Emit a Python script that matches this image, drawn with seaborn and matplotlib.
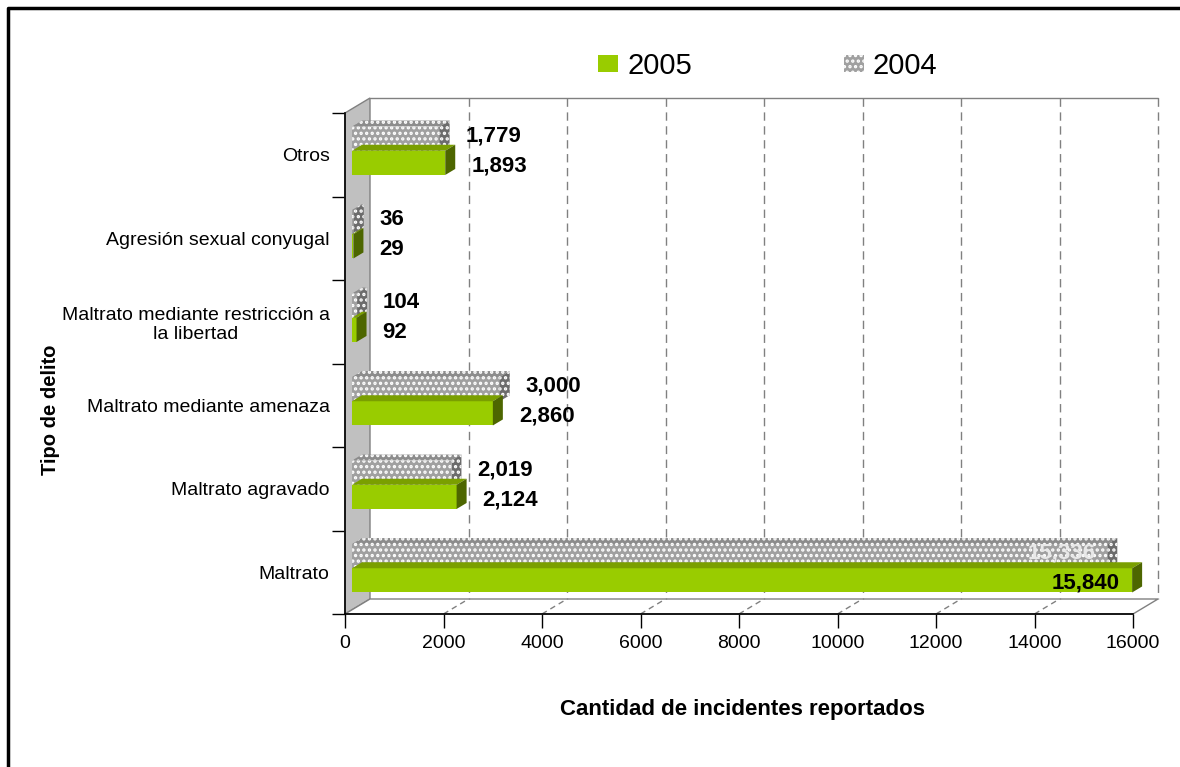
import numpy as np
import pandas as pd
import matplotlib.pyplot as plt
import seaborn as sns
from matplotlib.patches import Polygon, Patch
from matplotlib.lines import Line2D

# Datos
tipos = ['Otros',
         'Agresión sexual conyugal',
         'Maltrato mediante restricción a\nla libertad',
         'Maltrato mediante amenaza',
         'Maltrato agravado',
         'Maltrato']
casos_2004 = [1779, 36, 104, 3000, 2019, 15336]
casos_2005 = [1893, 29, 92, 2860, 2124, 15840]
anios = ['2004', '2005']
ticks_x = list(range(0, 16001, 2000))

df = pd.DataFrame({'tipo': tipos * 2,
                   'anio': ['2004'] * len(tipos) + ['2005'] * len(tipos),
                   'casos': casos_2004 + casos_2005})

VERDE, VERDE_OSC, VERDE_TOP = '#99cc00', '#4d6600', '#7a9f00'
GRIS, GRIS_OSC, GRIS_TOP = '#a0a0a0', '#6c6c6c', '#8c8c8c'
LINEA = '#808080'
TRAMA = '...'

sns.set_theme(style='white')
plt.rcParams['font.family'] = ['Liberation Sans', 'DejaVu Sans']
plt.rcParams['text.color'] = 'black'
plt.rcParams['axes.labelcolor'] = 'black'
plt.rcParams['xtick.color'] = 'black'
plt.rcParams['ytick.color'] = 'black'
plt.rcParams['hatch.color'] = 'white'
plt.rcParams['hatch.linewidth'] = 1.6

fig = plt.figure(figsize=(11.8, 7.67), dpi=100)
W, H = 1180, 767
ax = fig.add_axes([345 / W, 1 - 614 / H, 788 / W, 501 / H])

sns.barplot(data=df, x='casos', y='tipo', hue='anio', hue_order=anios,
            order=tipos, orient='h', width=0.58, saturation=1,
            palette={'2004': GRIS, '2005': VERDE}, legend=False, ax=ax,
            zorder=3)

ax.set_xlim(0, 16000)
ax.set_ylim(5.5, -0.5)

# pixeles -> unidades de datos
pos = ax.get_position()
sx = 16000 / (pos.width * W)
sy = 6 / (pos.height * H)
px_prof, py_prof = 25 * sx, 15 * sy   # profundidad del "3D"
y_top, y_bot = -0.5, 5.5

# pared izquierda
ax.add_patch(Polygon([(0, y_top), (px_prof, y_top - py_prof),
                      (px_prof, y_bot - py_prof), (0, y_bot)],
                     closed=True, facecolor='#c0c0c0', edgecolor=LINEA,
                     lw=1, zorder=1, clip_on=False))
# suelo
ax.add_patch(Polygon([(0, y_bot), (16000, y_bot),
                      (16000 + px_prof, y_bot - py_prof),
                      (px_prof, y_bot - py_prof)],
                     closed=True, facecolor='white', edgecolor=LINEA,
                     lw=1, zorder=1, clip_on=False))
# borde superior del fondo
ax.plot([px_prof, 16000 + px_prof], [y_top - py_prof] * 2, color=LINEA,
        lw=1, zorder=1, clip_on=False)

# rejilla del fondo y del suelo
for t in ticks_x[1:]:
    ax.plot([t + px_prof] * 2, [y_top - py_prof, y_bot - py_prof],
            color=LINEA, lw=1, ls=(0, (6, 4)), zorder=1, clip_on=False)
    if t < 16000:
        ax.plot([t, t + px_prof], [y_bot, y_bot - py_prof],
                color=LINEA, lw=1, ls=(0, (4, 3)), zorder=1, clip_on=False)

# barras con caras laterales
dx_bar, dy_bar = 10 * sx, 6 * sy
colores = {'2004': (GRIS, GRIS_OSC, GRIS_TOP, TRAMA),
           '2005': (VERDE, VERDE_OSC, VERDE_TOP, None)}
for anio, cont in zip(anios, ax.containers):
    frente, lado, arriba, trama = colores[anio]
    for bar in cont:
        bar.set_x(bar.get_x() + 7 * sx)
        bar.set_y(bar.get_y() - 4 * sy)
        bar.set_linewidth(0)
        bar.set_clip_on(False)
        if trama:
            bar.set_hatch(trama)
            bar.set_edgecolor('white')
        x0, y0 = bar.get_x(), bar.get_y()
        x1, y1 = x0 + bar.get_width(), y0 + bar.get_height()
        ax.add_patch(Polygon([(x0, y0), (x1, y0), (x1 + dx_bar, y0 - dy_bar),
                              (x0 + dx_bar, y0 - dy_bar)], closed=True,
                             facecolor=arriba, edgecolor='white' if trama else arriba,
                             lw=0, hatch=trama, zorder=3, clip_on=False))
        ax.add_patch(Polygon([(x1, y0), (x1, y1), (x1 + dx_bar, y1 - dy_bar),
                              (x1 + dx_bar, y0 - dy_bar)], closed=True,
                             facecolor=lado, edgecolor='white' if trama else lado,
                             lw=0, hatch=trama, zorder=3, clip_on=False))
        valor = int(round(bar.get_width()))
        yc = (y0 + y1) / 2 + (-3 * sy if anio == '2004' else 3 * sy)
        if valor > 10000:
            ax.text(x1 - 12 * sx, yc, f'{valor:,}', ha='right', va='center',
                    fontsize=16, fontweight='bold',
                    color='#e8e8e8' if anio == '2004' else 'black', zorder=5)
        else:
            ax.text(x1 + 26 * sx, yc, f'{valor:,}', ha='left', va='center',
                    fontsize=16, fontweight='bold', color='black', zorder=5)

# ejes
for lado_eje in ['top', 'right']:
    ax.spines[lado_eje].set_visible(False)
for lado_eje in ['left', 'bottom']:
    ax.spines[lado_eje].set_color('black')
    ax.spines[lado_eje].set_linewidth(1.2)
    ax.spines[lado_eje].set_zorder(2)

ax.set_xticks(ticks_x)
ax.set_xticklabels([str(t) for t in ticks_x], fontsize=14)
ax.tick_params(axis='x', direction='out', length=10, width=1, color='black',
               pad=5, bottom=True)
ax.set_yticks(range(len(tipos)))
ax.set_yticklabels(tipos, fontsize=14, ha='right', multialignment='center')
ax.tick_params(axis='y', which='major', length=0, pad=11)
ax.set_yticks(np.arange(-0.5, len(tipos)), minor=True)
ax.tick_params(axis='y', which='minor', direction='out', length=9.5,
               width=1, color='black', left=True)

ax.set_xlabel('Cantidad de incidentes reportados', fontsize=16,
              fontweight='bold', va='center')
ax.xaxis.set_label_coords((742 - 345) / 788, (614 - 709) / 501)
ax.set_ylabel('Tipo de delito', fontsize=14.5, fontweight='bold', va='center')
ax.yaxis.set_label_coords((50 - 345) / 788, (614 - 410) / 501)

# leyenda
handles = [Patch(facecolor=VERDE, lw=0),
           Patch(facecolor=GRIS, edgecolor='white', hatch=TRAMA, lw=0)]
fig.legend(handles, ['2005', '2004'], loc='center left',
           bbox_to_anchor=(598 / W, 1 - 66 / H), ncol=2, frameon=False,
           fontsize=21, handlelength=0.7, handleheight=0.55,
           handletextpad=0.3, columnspacing=5.2, borderpad=0,
           borderaxespad=0)

# marco exterior
fig.add_artist(Line2D([8 / W, 8 / W, 1], [0, 1 - 8 / H, 1 - 8 / H],
                      color='black', lw=2.5, transform=fig.transFigure))

fig.savefig('out.png', dpi=100, facecolor='white')
